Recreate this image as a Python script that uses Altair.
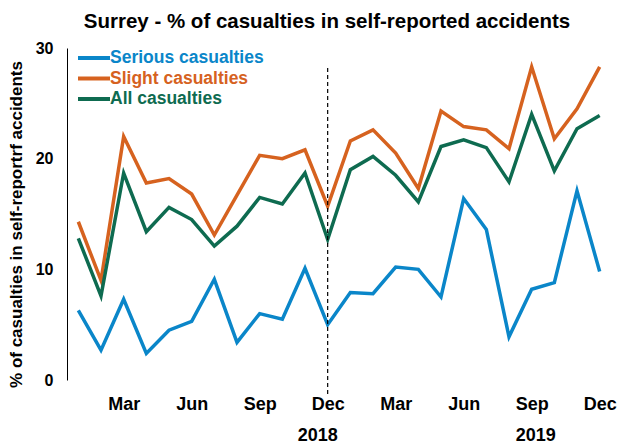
import altair as alt
import pandas as pd

months = ["Jan", "Feb", "Mar", "Apr", "May", "Jun", "Jul", "Aug", "Sep", "Oct", "Nov", "Dec"]
series_names = ["Serious casualties", "Slight casualties", "All casualties"]

serious = [6.3, 2.7, 7.3, 2.4, 4.5, 5.3, 9.1, 3.4, 6.0, 5.5, 10.1, 5.0,
           7.9, 7.8, 10.2, 10.0, 7.5, 16.4, 13.6, 3.9, 8.2, 8.8, 17.1, 9.8]
slight = [14.3, 9.0, 22.0, 17.8, 18.2, 16.8, 13.1, 16.7, 20.3, 20.0, 20.8, 15.7,
          21.6, 22.6, 20.5, 17.3, 24.3, 22.9, 22.6, 20.9, 28.3, 21.8, 24.5, 28.3]
all_cas = [12.8, 7.6, 18.7, 13.4, 15.6, 14.5, 12.1, 13.9, 16.5, 15.9, 18.7, 12.7,
           19.0, 20.2, 18.5, 16.1, 21.1, 21.7, 21.0, 17.9, 24.0, 18.9, 22.7, 23.9]
colors = ["#0A86C9", "#D6621F", "#0E6B50"]

rows = []
for name, vals in zip(series_names, [serious, slight, all_cas]):
    for i, v in enumerate(vals):
        rows.append({"idx": i, "series": name, "value": v})
df = pd.DataFrame(rows)

FONT = "Liberation Sans"

x_scale = alt.Scale(domain=[-0.5, 23.5], nice=False, zero=False)
y_scale = alt.Scale(domain=[0, 30], nice=False)
color_scale = alt.Scale(domain=series_names, range=colors)

month_js = "[" + ",".join("'%s'" % m for m in months) + "]"

lines = alt.Chart(df).mark_line(strokeWidth=3.5).encode(
    x=alt.X("idx:Q", scale=x_scale,
            axis=alt.Axis(values=[2, 5, 8, 11, 14, 17, 20, 23],
                          labelExpr=month_js + "[datum.value % 12]",
                          domain=False, ticks=False, grid=False, title=None,
                          labelFont=FONT, labelFontSize=18, labelFontWeight="bold",
                          labelColor="black", labelPadding=15)),
    y=alt.Y("value:Q", scale=y_scale,
            axis=alt.Axis(values=[0, 10, 20, 30], grid=False, ticks=False,
                          domainColor="black", domainWidth=1,
                          labelFont=FONT, labelFontSize=16, labelFontWeight="bold",
                          labelColor="black", labelPadding=14,
                          title="% of casualties in self-reportrf accidents",
                          titleFont=FONT, titleFontSize=17, titleFontWeight="bold",
                          titleColor="black", titlePadding=10, titleY=176)),
    color=alt.Color("series:N", scale=color_scale, legend=None),
)

# manual legend (coloured labels)
leg_df = pd.DataFrame({"series": series_names, "order": list(range(len(series_names)))})
leg_base = alt.Chart(leg_df).transform_calculate(py="10 + 20.5 * datum.order")
leg_lines = leg_base.mark_rule(strokeWidth=4).encode(
    x=alt.value(11), x2=alt.value(43),
    y=alt.Y("py:Q", scale=None),
    color=alt.Color("series:N", scale=color_scale, legend=None),
)
leg_text = leg_base.mark_text(align="left", baseline="middle", font=FONT,
                              fontSize=17.5, fontWeight="bold").encode(
    x=alt.value(43),
    y=alt.Y("py:Q", scale=None),
    text="series:N",
    color=alt.Color("series:N", scale=color_scale, legend=None),
)

divider = alt.Chart(pd.DataFrame({"idx": [11]})).mark_rule(
    color="black", strokeDash=[4, 3], strokeWidth=1.2
).encode(x=alt.X("idx:Q", scale=x_scale), y=alt.value(20), y2=alt.value(348))

years = ["2018", "2019"]
year_anchor = [11, 20]
y18 = alt.Chart(pd.DataFrame({"idx": [year_anchor[0]], "year": [years[0]]})).mark_text(
    font=FONT, fontSize=18, fontWeight="bold", color="black", dx=-10
).encode(x=alt.X("idx:Q", scale=x_scale), y=alt.value(388), text="year:N")
y19 = alt.Chart(pd.DataFrame({"idx": [year_anchor[1]], "year": [years[1]]})).mark_text(
    font=FONT, fontSize=18, fontWeight="bold", color="black", dx=4
).encode(x=alt.X("idx:Q", scale=x_scale), y=alt.value(388), text="year:N")

chart = alt.layer(lines, divider, leg_lines, leg_text, y18, y19).properties(
    width=544, height=332,
    title=alt.Title("Surrey - % of casualties in self-reported accidents",
                    font=FONT, fontSize=20.5, fontWeight="bold", color="black",
                    anchor="middle", offset=8, dx=-12),
    autosize=alt.AutoSizeParams(type="none"),
    padding={"left": 59, "top": 40, "right": 6, "bottom": 64},
).configure_view(stroke=None)

chart.save("out.html", embed_options={"renderer": "svg", "actions": False})
